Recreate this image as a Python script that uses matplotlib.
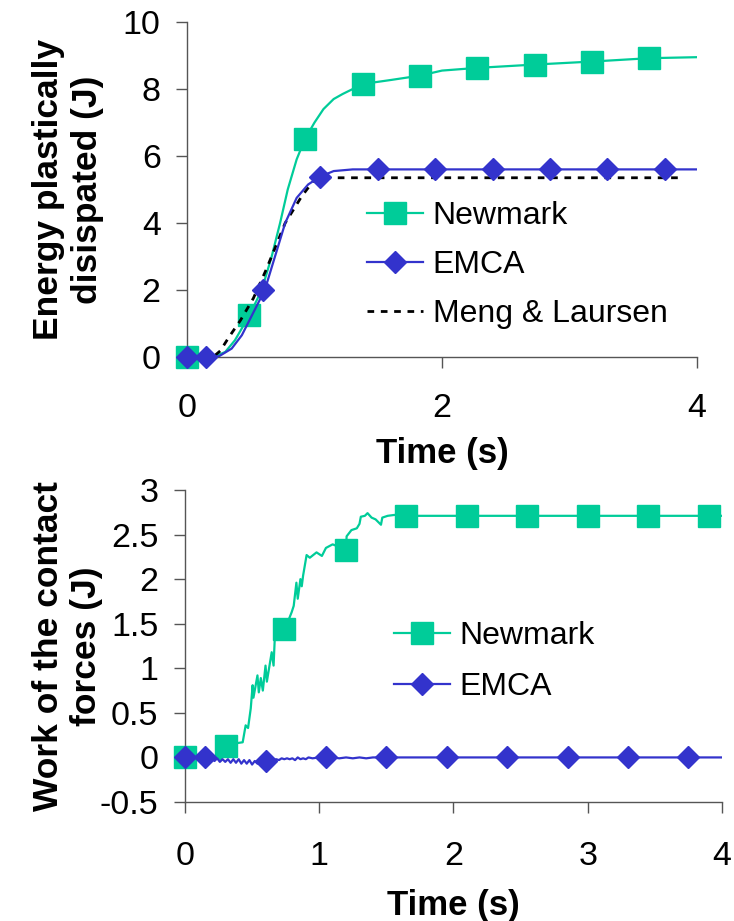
import matplotlib
matplotlib.use("Agg")
import matplotlib.pyplot as plt

plt.rcParams["font.family"] = ["Liberation Sans", "DejaVu Sans"]

# ---------------- plastic dissipation (top panel) ----------------
nm_top_t = [0.0, 0.15, 0.22, 0.30, 0.376, 0.49, 0.586, 0.664, 0.73, 0.79, 0.86,
            0.924, 1.0, 1.07, 1.15, 1.22, 1.30, 1.379, 1.6, 1.828, 2.0, 2.274,
            2.729, 3.178, 3.624, 4.0]
nm_top_e = [0.0, 0.0, 0.02, 0.15, 0.5, 1.25, 2.0, 3.0, 4.0, 5.0, 5.9,
            6.5, 7.0, 7.4, 7.7, 7.85, 8.0, 8.15, 8.27, 8.4, 8.55, 8.63,
            8.73, 8.82, 8.92, 8.95]
nm_top_mark_t = [0.0, 0.49, 0.924, 1.379, 1.828, 2.274, 2.729, 3.178, 3.624]
nm_top_mark_e = [0.0, 1.25, 6.5, 8.15, 8.4, 8.63, 8.73, 8.82, 8.92]

em_top_t = [0.0, 0.147, 0.25, 0.35, 0.43, 0.51, 0.61, 0.69, 0.77, 0.86, 0.95,
            1.042, 1.15, 1.3, 1.497, 4.0]
em_top_e = [0.0, 0.0, 0.02, 0.25, 0.65, 1.25, 2.0, 3.0, 4.0, 4.75, 5.15,
            5.38, 5.55, 5.6, 5.6, 5.6]
em_top_mark_t = [0.0, 0.147, 0.596, 1.042, 1.497, 1.946, 2.398, 2.847, 3.296, 3.748]
em_top_mark_e = [0.0, 0.0, 2.0, 5.38, 5.6, 5.6, 5.6, 5.6, 5.6, 5.6]

ml_t = [0.22, 0.26, 0.33, 0.42, 0.52, 0.62, 0.69, 0.77, 0.90, 1.0, 1.1, 3.88]
ml_e = [0.05, 0.18, 0.6, 1.1, 1.75, 2.6, 3.25, 4.0, 4.8, 5.3, 5.35, 5.35]

# ---------------- contact work (bottom panel) ----------------
nm_bot_t = [0.0, 0.15, 0.24, 0.27, 0.29, 0.306, 0.385, 0.43, 0.452, 0.47, 0.49,
            0.504, 0.51, 0.54, 0.55, 0.565, 0.58, 0.60, 0.61, 0.646, 0.66, 0.67,
            0.68, 0.745, 0.795, 0.81, 0.83, 0.84, 0.86, 0.87, 0.88, 0.906, 0.93,
            0.955, 0.98, 1.02, 1.05, 1.10, 1.20, 1.204, 1.24, 1.28, 1.30, 1.31,
            1.34, 1.36, 1.39, 1.42, 1.46, 1.47, 1.51, 1.56, 1.64, 4.0]
nm_bot_w = [0.0, 0.0, -0.01, -0.02, 0.10, 0.13, 0.16, 0.17, 0.36, 0.33, 0.55,
            0.81, 0.67, 0.92, 0.73, 0.89, 0.75, 1.03, 0.85, 1.18, 1.03, 1.37,
            1.41, 1.44, 1.63, 1.70, 1.96, 1.78, 2.00, 1.92, 2.04, 2.27, 2.24,
            2.27, 2.30, 2.26, 2.35, 2.39, 2.33, 2.48, 2.55, 2.57, 2.62, 2.70,
            2.71, 2.74, 2.69, 2.67, 2.61, 2.69, 2.71, 2.72, 2.71, 2.71]
nm_bot_mark_t = [0.0, 0.306, 0.74, 1.2, 1.65, 2.1, 2.55, 3.0, 3.45, 3.9]
nm_bot_mark_w = [0.0, 0.13, 1.44, 2.33, 2.71, 2.71, 2.71, 2.71, 2.71, 2.71]

em_bot_t = [0.0, 0.15, 0.20, 0.22, 0.24, 0.26, 0.28, 0.30, 0.32, 0.34, 0.36,
            0.38, 0.40, 0.42, 0.44, 0.46, 0.48, 0.50, 0.52, 0.54, 0.56, 0.60,
            0.64, 0.66, 0.68, 0.70, 0.72, 0.74, 0.76, 0.78, 0.80, 0.82, 0.84,
            0.86, 0.88, 0.90, 0.92, 0.95, 1.0, 1.05, 1.10, 1.15, 1.20, 1.25,
            1.30, 1.35, 1.40, 1.50, 4.0]
em_bot_w = [0.0, 0.0, -0.01, -0.04, -0.01, -0.05, -0.02, -0.05, -0.02, -0.06, -0.02,
            -0.06, -0.02, -0.07, -0.03, -0.07, -0.03, -0.08, -0.04, -0.07, -0.05, -0.04,
            -0.05, -0.03, -0.02, -0.03, -0.01, -0.02, -0.01, -0.02, -0.01, -0.03, 0.0,
            -0.02, -0.01, -0.02, 0.0, -0.01, 0.0, 0.01, 0.0, -0.01, 0.0, -0.01,
            0.0, -0.01, 0.0, 0.0, 0.0]
em_bot_mark_t = [0.0, 0.15, 0.6, 1.05, 1.5, 1.95, 2.4, 2.85, 3.3, 3.75]
em_bot_mark_w = [0.0, 0.0, -0.04, 0.01, 0.0, 0.0, 0.0, 0.0, 0.0, 0.0]

top_xticks = [0, 2, 4]
top_yticks = [0, 2, 4, 6, 8, 10]
bot_xticks = [0, 1, 2, 3, 4]
bot_yticks = [-0.5, 0, 0.5, 1, 1.5, 2, 2.5, 3]
bot_ytick_labels = ["-0.5", "0", "0.5", "1", "1.5", "2", "2.5", "3"]

GREEN = "#00CC99"
BLUE = "#3333CC"
AXC = "#555555"
SQ = 15.5
DM = 11.3

fig = plt.figure(figsize=(7.34, 9.21), dpi=100)
ax1 = fig.add_axes([0.2548, 0.6124, 0.6948, 0.3637])
ax2 = fig.add_axes([0.2520, 0.1292, 0.7316, 0.3388])


def style(ax):
    for side in ("top", "right"):
        ax.spines[side].set_visible(False)
    for side in ("left", "bottom"):
        ax.spines[side].set_color(AXC)
        ax.spines[side].set_linewidth(1.0)
    ax.tick_params(direction="out", length=8, width=1.0, color=AXC,
                   labelsize=24.5, labelcolor="black")
    ax.tick_params(axis="y", pad=11)


# top panel
ax1.plot(nm_top_t, nm_top_e, color=GREEN, lw=1.6, zorder=3)
ax1.plot(nm_top_mark_t, nm_top_mark_e, ls="none", marker="s", ms=SQ,
         color=GREEN, clip_on=False, zorder=4)
ax1.plot(em_top_t, em_top_e, color=BLUE, lw=1.6, zorder=5)
ax1.plot(em_top_mark_t, em_top_mark_e, ls="none", marker="D", ms=DM,
         color=BLUE, clip_on=False, zorder=6)
ax1.plot(ml_t, ml_e, color="black", lw=2.0, ls=(0, (2.4, 2.4)), zorder=4)

h_nm = ax1.plot([], [], color=GREEN, lw=1.6, marker="s", ms=SQ, label="Newmark")[0]
h_em = ax1.plot([], [], color=BLUE, lw=1.6, marker="D", ms=DM, label="EMCA")[0]
h_ml = ax1.plot([], [], color="black", lw=2.0, ls=(0, (2.4, 2.4)), label="Meng & Laursen")[0]

ax1.set_xlim(0, 4)
ax1.set_ylim(0, 10)
ax1.set_xticks(top_xticks)
ax1.set_yticks(top_yticks)
style(ax1)
ax1.tick_params(axis="x", pad=18)
ax1.set_xlabel("Time (s)", fontsize=25, fontweight="bold", labelpad=9)
ax1.set_ylabel("Energy plastically\ndisispated (J)", fontsize=25.5,
               fontweight="bold", linespacing=1.22)
ax1.yaxis.set_label_coords(-0.163, 0.5)
ax1.legend(handles=[h_nm, h_em, h_ml], loc="center left",
           bbox_to_anchor=(0.353, 0.275), frameon=False, fontsize=23,
           handlelength=1.75, handletextpad=0.3, labelspacing=0.6,
           borderpad=0, borderaxespad=0, numpoints=1)

# bottom panel
ax2.plot(nm_bot_t, nm_bot_w, color=GREEN, lw=1.6, zorder=3)
ax2.plot(nm_bot_mark_t, nm_bot_mark_w, ls="none", marker="s", ms=SQ,
         color=GREEN, clip_on=False, zorder=4)
ax2.plot(em_bot_t, em_bot_w, color=BLUE, lw=1.6, zorder=5)
ax2.plot(em_bot_mark_t, em_bot_mark_w, ls="none", marker="D", ms=DM,
         color=BLUE, clip_on=False, zorder=6)

g_nm = ax2.plot([], [], color=GREEN, lw=1.6, marker="s", ms=SQ, label="Newmark")[0]
g_em = ax2.plot([], [], color=BLUE, lw=1.6, marker="D", ms=DM, label="EMCA")[0]

ax2.set_xlim(0, 4)
ax2.set_ylim(-0.5, 3)
ax2.set_xticks(bot_xticks)
ax2.set_yticks(bot_yticks)
ax2.set_yticklabels(bot_ytick_labels)
style(ax2)
ax2.tick_params(axis="x", pad=20)
ax2.set_xlabel("Time (s)", fontsize=25, fontweight="bold", labelpad=12)
ax2.set_ylabel("Work of the contact\nforces (J)", fontsize=25.5,
               fontweight="bold", linespacing=1.22)
ax2.yaxis.set_label_coords(-0.152, 0.5)
ax2.legend(handles=[g_nm, g_em], loc="center left",
           bbox_to_anchor=(0.389, 0.45), frameon=False, fontsize=23,
           handlelength=1.75, handletextpad=0.3, labelspacing=0.65,
           borderpad=0, borderaxespad=0, numpoints=1)

fig.savefig("out.png", dpi=100)
